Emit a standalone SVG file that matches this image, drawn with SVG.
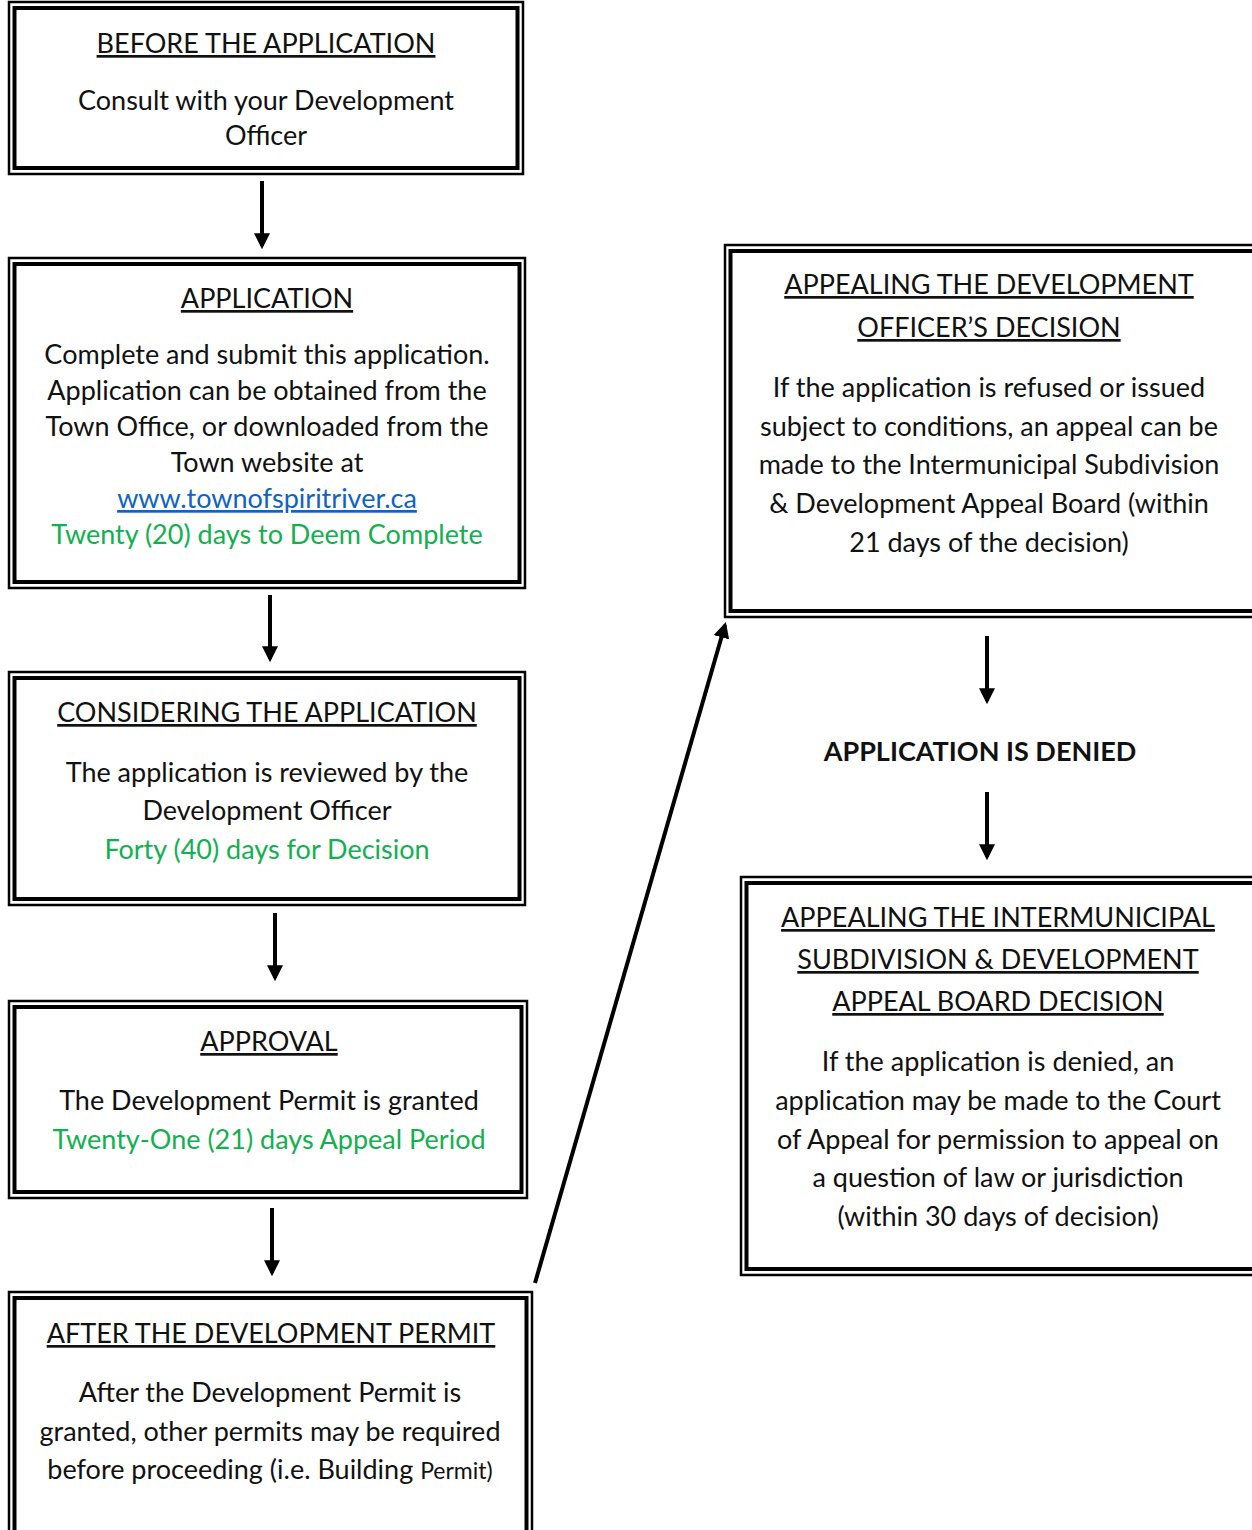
<svg xmlns="http://www.w3.org/2000/svg" width="1252" height="1530" viewBox="0 0 1252 1530">
<defs>
<style>
.o{fill:none;stroke:#000;stroke-width:2.5}
.i{fill:none;stroke:#000;stroke-width:4}
text{font-family:Lato,"Liberation Sans",sans-serif;text-anchor:middle;fill:#111}
.t{font-size:27px;text-decoration:underline}
.b{font-size:27px}
.g{fill:#12b04f}
.l{fill:#0f63c4;text-decoration:underline}
.c{stroke:#000;stroke-width:4;fill:none}
</style>
<marker id="ah" markerWidth="4" markerHeight="4" refX="3.2" refY="2" orient="auto" markerUnits="strokeWidth" viewBox="0 0 4 4">
<path d="M0,0 L4,2 L0,4 z" fill="#000"/>
</marker>
</defs>
<rect width="1252" height="1530" fill="#fff"/>

<g id="before">
<rect class="o" x="9" y="2" width="514" height="172"/>
<rect class="i" x="14.5" y="8" width="503" height="160"/>
<text class="t" x="266" y="53">BEFORE THE APPLICATION</text>
<text class="b" x="266" y="110">Consult with your Development</text>
<text class="b" x="266" y="145">Officer</text>
</g>

<g id="application">
<rect class="o" x="9" y="258" width="516" height="330"/>
<rect class="i" x="14.5" y="264" width="505" height="318"/>
<text class="t" x="267" y="308">APPLICATION</text>
<text class="b" x="267" y="364">Complete and submit this application.</text>
<text class="b" x="267" y="400">Application can be obtained from the</text>
<text class="b" x="267" y="436">Town Office, or downloaded from the</text>
<text class="b" x="267" y="472">Town website at</text>
<text class="b l" x="267" y="508">www.townofspiritriver.ca</text>
<text class="b g" x="267" y="544">Twenty (20) days to Deem Complete</text>
</g>

<g id="considering">
<rect class="o" x="9" y="672" width="516" height="233"/>
<rect class="i" x="14.5" y="678" width="505" height="221"/>
<text class="t" x="267" y="722">CONSIDERING THE APPLICATION</text>
<text class="b" x="267" y="782">The application is reviewed by the</text>
<text class="b" x="267" y="820">Development Officer</text>
<text class="b g" x="267" y="859">Forty (40) days for Decision</text>
</g>

<g id="approval">
<rect class="o" x="9" y="1001" width="518" height="197"/>
<rect class="i" x="14.5" y="1007" width="507" height="185"/>
<text class="t" x="269" y="1051">APPROVAL</text>
<text class="b" x="269" y="1110">The Development Permit is granted</text>
<text class="b g" x="269" y="1149">Twenty-One (21) days Appeal Period</text>
</g>

<g id="after">
<rect class="o" x="9" y="1292" width="523" height="250"/>
<rect class="i" x="14.5" y="1298" width="512" height="250"/>
<text class="t" x="271" y="1343">AFTER THE DEVELOPMENT PERMIT</text>
<text class="b" x="270" y="1402">After the Development Permit is</text>
<text class="b" x="270" y="1441">granted, other permits may be required</text>
<text class="b" x="270" y="1479">before proceeding (i.e. Building <tspan font-size="23px">Permit)</tspan></text>
</g>

<g id="appeal-do">
<rect class="o" x="725" y="245" width="540" height="372"/>
<rect class="i" x="730.5" y="251" width="540" height="360"/>
<text class="t" x="989" y="294">APPEALING THE DEVELOPMENT</text>
<text class="t" x="989" y="337">OFFICER’S DECISION</text>
<text class="b" x="989" y="397">If the application is refused or issued</text>
<text class="b" x="989" y="436">subject to conditions, an appeal can be</text>
<text class="b" x="989" y="474">made to the Intermunicipal Subdivision</text>
<text class="b" x="989" y="513">&amp; Development Appeal Board (within</text>
<text class="b" x="989" y="552">21 days of the decision)</text>
</g>

<g id="denied">
<text x="980" y="761" font-size="27px" font-weight="bold">APPLICATION IS DENIED</text>
</g>

<g id="appeal-isdab">
<rect class="o" x="741" y="877" width="530" height="398"/>
<rect class="i" x="746.5" y="883" width="530" height="386"/>
<text class="t" x="998" y="927">APPEALING THE INTERMUNICIPAL</text>
<text class="t" x="998" y="969">SUBDIVISION &amp; DEVELOPMENT</text>
<text class="t" x="998" y="1011">APPEAL BOARD DECISION</text>
<text class="b" x="998" y="1071">If the application is denied, an</text>
<text class="b" x="998" y="1110">application may be made to the Court</text>
<text class="b" x="998" y="1149">of Appeal for permission to appeal on</text>
<text class="b" x="998" y="1187">a question of law or jurisdiction</text>
<text class="b" x="998" y="1226">(within 30 days of decision)</text>
</g>

<g id="connectors">
<line class="c" x1="262" y1="181" x2="262" y2="246" marker-end="url(#ah)"/>
<line class="c" x1="270" y1="595" x2="270" y2="659" marker-end="url(#ah)"/>
<line class="c" x1="275" y1="913" x2="275" y2="978" marker-end="url(#ah)"/>
<line class="c" x1="272" y1="1208" x2="272" y2="1273" marker-end="url(#ah)"/>
<line class="c" x1="535" y1="1283" x2="725" y2="625" marker-end="url(#ah)"/>
<line class="c" x1="987" y1="636" x2="987" y2="701" marker-end="url(#ah)"/>
<line class="c" x1="987" y1="792" x2="987" y2="857" marker-end="url(#ah)"/>
</g>
</svg>
